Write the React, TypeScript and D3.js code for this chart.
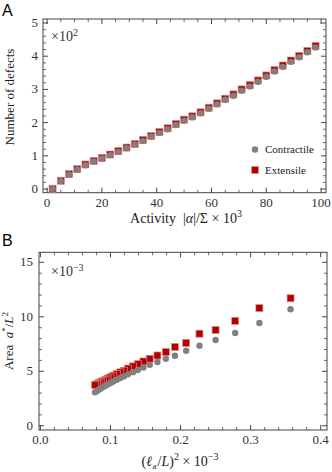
import React from "react";
import * as d3 from "d3";

// panel A: number of defects vs activity
const activity = [2, 5, 8, 11, 14, 17, 20, 23, 26, 29, 32, 35, 38, 41, 44, 47, 50, 53, 56, 59, 62, 65, 68, 71, 74, 77, 80, 83, 86, 89, 92, 95, 98];
const defectsContractile = [0.0, 0.24, 0.44, 0.59, 0.72, 0.83, 0.92, 1.02, 1.12, 1.23, 1.34, 1.45, 1.58, 1.69, 1.8, 1.93, 2.06, 2.16, 2.28, 2.42, 2.55, 2.69, 2.81, 2.96, 3.09, 3.23, 3.38, 3.54, 3.68, 3.83, 3.97, 4.12, 4.26];
const defectsExtensile = [0.01, 0.25, 0.45, 0.6, 0.74, 0.85, 0.94, 1.04, 1.14, 1.25, 1.36, 1.48, 1.6, 1.72, 1.83, 1.96, 2.09, 2.19, 2.31, 2.45, 2.58, 2.72, 2.85, 3.0, 3.13, 3.27, 3.42, 3.58, 3.72, 3.87, 4.01, 4.16, 4.31];
const xTicksA = [0, 20, 40, 60, 80, 100];
const yTicksA = [0, 1, 2, 3, 4, 5];

// panel B: area vs (l_a/L)^2
const lengthSq = [0.357, 0.3125, 0.278, 0.25, 0.227, 0.208, 0.192, 0.179, 0.167, 0.156, 0.147, 0.139, 0.132, 0.125, 0.119, 0.114, 0.109, 0.104, 0.1, 0.096, 0.093, 0.089, 0.086, 0.083, 0.081, 0.078];
const areaContractile = [10.69, 9.43, 8.51, 7.87, 7.35, 6.89, 6.43, 6.15, 5.85, 5.6, 5.35, 5.12, 4.92, 4.72, 4.53, 4.38, 4.22, 4.06, 3.92, 3.78, 3.67, 3.53, 3.42, 3.3, 3.2, 3.07];
const areaExtensile = [11.7, 10.8, 9.63, 8.8, 8.45, 7.6, 7.23, 6.77, 6.45, 6.15, 5.9, 5.65, 5.45, 5.25, 5.05, 4.9, 4.75, 4.6, 4.45, 4.33, 4.22, 4.1, 4.0, 3.9, 3.82, 3.74];
const xTicksB = [0, 0.1, 0.2, 0.3, 0.4];
const yTicksB = [0, 5, 10, 15];

const serif = "'Liberation Serif', 'Times New Roman', serif";
const frameColor = "#444";
const grey = "#808080";
const red = "#b00000";

function Frame({ x, y, xTicks, yTicks, xMinor, yMinor, xFmt, yFmt, labelDx }) {
  const [x0, x1] = x.range();
  const [y0, y1] = y.range();
  const major = 5, minor = 3;
  return (
    <g>
      <rect x={x0} y={y1} width={x1 - x0} height={y0 - y1} fill="none" stroke={frameColor} strokeWidth={1} />
      {xMinor.map((t, i) => (
        <g key={"xm" + i} stroke={frameColor} strokeWidth={0.8}>
          <line x1={x(t)} x2={x(t)} y1={y0} y2={y0 - minor} />
          <line x1={x(t)} x2={x(t)} y1={y1} y2={y1 + minor} />
        </g>
      ))}
      {yMinor.map((t, i) => (
        <g key={"ym" + i} stroke={frameColor} strokeWidth={0.8}>
          <line x1={x0} x2={x0 + minor} y1={y(t)} y2={y(t)} />
          <line x1={x1} x2={x1 - minor} y1={y(t)} y2={y(t)} />
        </g>
      ))}
      {xTicks.map((t) => (
        <g key={"x" + t}>
          <line x1={x(t)} x2={x(t)} y1={y0} y2={y0 - major} stroke={frameColor} />
          <line x1={x(t)} x2={x(t)} y1={y1} y2={y1 + major} stroke={frameColor} />
          <text x={x(t)} y={y0 + 14} textAnchor="middle" fontFamily={serif} fontSize={13} fill="#333">{xFmt(t)}</text>
        </g>
      ))}
      {yTicks.map((t) => (
        <g key={"y" + t}>
          <line x1={x0} x2={x0 + major} y1={y(t)} y2={y(t)} stroke={frameColor} />
          <line x1={x1} x2={x1 - major} y1={y(t)} y2={y(t)} stroke={frameColor} />
          <text x={x0 - labelDx} y={y(t) + 4} textAnchor="end" fontFamily={serif} fontSize={13} fill="#333">{yFmt(t)}</text>
        </g>
      ))}
    </g>
  );
}

function Square({ cx, cy }) {
  return <rect x={cx - 3.5} y={cy - 3.5} width={7} height={7} fill={red} stroke="#e08a8a" strokeWidth={0.7} />;
}

export default function App() {
  // panel A scales
  const xA = d3.scaleLinear().domain([-1.5, 101.8]).range([43, 326]);
  const yA = d3.scaleLinear().domain([-0.11, 5.12]).range([192.7, 19]);
  // panel B scales
  const xB = d3.scaleLinear().domain([-0.002, 0.409]).range([39, 327]);
  const yB = d3.scaleLinear().domain([-0.39, 15.92]).range([430, 252.3]);

  const xMinorA = d3.range(0, 101, 5).filter((t) => t % 20 !== 0);
  const yMinorA = d3.range(0, 5.01, 0.2).filter((t) => Math.abs(t - Math.round(t)) > 0.01);
  const xMinorB = d3.range(0, 0.401, 0.02).filter((t) => Math.abs(t * 10 - Math.round(t * 10)) > 0.01);
  const yMinorB = d3.range(0, 15.01, 1).filter((t) => t % 5 !== 0);

  return (
    <svg width={332} height={472} style={{ position: "absolute", left: 0, top: 0, background: "#fff" }}>
      {/* ---------- Panel A ---------- */}
      <text x={2} y={16} fontFamily="'Liberation Sans', Arial, sans-serif" fontSize={16}>A</text>
      <Frame x={xA} y={yA} xTicks={xTicksA} yTicks={yTicksA} xMinor={xMinorA} yMinor={yMinorA}
        xFmt={(d) => String(d)} yFmt={(d) => String(d)} labelDx={5} />
      {activity.map((a, i) => (
        <Square key={"ae" + i} cx={xA(a)} cy={yA(defectsExtensile[i])} />
      ))}
      {activity.map((a, i) => (
        <circle key={"ac" + i} cx={xA(a)} cy={yA(defectsContractile[i])} r={3.2} fill={grey} />
      ))}
      <text x={51} y={41} fontFamily={serif} fontSize={14} fill="#333">
        ×10<tspan dy={-5} fontSize={10}>2</tspan>
      </text>
      {/* legend */}
      <circle cx={255} cy={149.5} r={3.2} fill={grey} />
      <text x={265} y={153} fontFamily={serif} fontSize={11} fill="#222">Contractile</text>
      <Square cx={255} cy={170} />
      <text x={265} y={174} fontFamily={serif} fontSize={11} fill="#222">Extensile</text>
      <text transform="translate(14,97) rotate(-90)" textAnchor="middle" fontFamily={serif} fontSize={13} fill="#222">Number of defects</text>
      <text x={186} y={223} textAnchor="middle" fontFamily={serif} fontSize={14} fill="#222">
        Activity{"\u00a0\u00a0"}|<tspan fontStyle="italic">α</tspan>|/Σ × 10<tspan dy={-6} fontSize={10}>3</tspan>
      </text>

      {/* ---------- Panel B ---------- */}
      <text x={2} y={246} fontFamily="'Liberation Sans', Arial, sans-serif" fontSize={16}>B</text>
      <Frame x={xB} y={yB} xTicks={xTicksB} yTicks={yTicksB} xMinor={xMinorB} yMinor={yMinorB}
        xFmt={d3.format(".1f")} yFmt={(d) => String(d)} labelDx={6} />
      {lengthSq.map((l, i) => (
        <Square key={"be" + i} cx={xB(l)} cy={yB(areaExtensile[i])} />
      ))}
      {lengthSq.map((l, i) => (
        <circle key={"bc" + i} cx={xB(l)} cy={yB(areaContractile[i])} r={3.2} fill={grey} />
      ))}
      <text x={51} y={276} fontFamily={serif} fontSize={14} fill="#333">
        ×10<tspan dy={-5} fontSize={10}>−3</tspan>
      </text>
      <text transform="translate(13,341) rotate(-90)" textAnchor="middle" fontFamily={serif} fontSize={13} fill="#222">
        Area{"\u00a0\u00a0"}<tspan fontStyle="italic">a</tspan><tspan dy={-5} fontSize={9}>*</tspan><tspan dy={5}>/</tspan><tspan fontStyle="italic">L</tspan><tspan dy={-5} fontSize={9}>2</tspan>
      </text>
      <text x={180} y={466} textAnchor="middle" fontFamily={serif} fontSize={14} fill="#222">
        (<tspan fontStyle="italic">ℓ</tspan><tspan dx={0.5} dy={3} fontSize={9}>a</tspan><tspan dx={1} dy={-3}>/</tspan><tspan fontStyle="italic">L</tspan>)<tspan dy={-6} fontSize={10}>2</tspan><tspan dy={6}> × 10</tspan><tspan dy={-6} fontSize={10}>−3</tspan>
      </text>
    </svg>
  );
}
